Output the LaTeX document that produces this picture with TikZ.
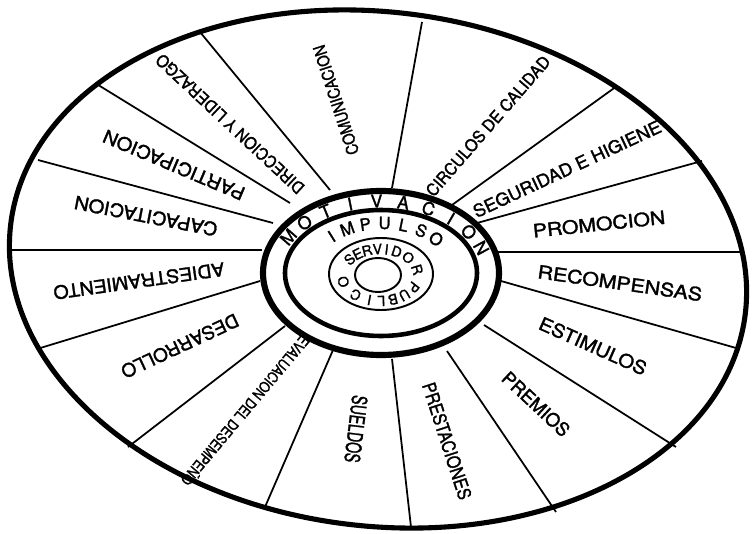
\documentclass[tikz,border=0pt]{standalone}
\usepackage{fontspec}
\setmainfont{TeX Gyre Heros}
\newfontfamily\wheelfont{TeX Gyre Heros}[FakeBold=1.6]
\begin{document}
\begin{tikzpicture}[x=0.02cm, y=-0.02cm, every node/.style={inner sep=0pt},
    spoke/.style={line width=1pt},
    lbl/.style={font=\wheelfont\fontsize{#1}{#1}\selectfont},
    hubtxt/.style={font=\wheelfont\fontsize{#1}{#1}\selectfont}]
  \useasboundingbox (0,0) rectangle (754,534);
  % spokes between the sectors
  \foreach \xa/\ya/\xb/\yb in {392/188/422/22, 330/190/200/32, 290/203/95/83, 273/223/38/160,
      262/250/10/250, 260/281/37/349, 285/326/128/447, 333/350/265/507, 392/359/411/527,
      447/351/556/512, 484/325/676/447, 501/281/736/348, 497/252/744/252, 477/223/702/161,
      452/205/617/86}
    \draw[spoke] (\xa,\ya) -- (\xb,\yb);
  % rim and hub rings
  \draw[line width=2.9pt, rotate around={-7:(378,269)}] (378,269) ellipse [x radius=370, y radius=257];
  \draw[line width=3.5pt, fill=white] (381,273) ellipse [x radius=118, y radius=82];
  \draw[line width=2.6pt] (381,273) ellipse [x radius=96, y radius=63];
  \draw[line width=1.1pt] (381,274) ellipse [x radius=52, y radius=36];
  \draw[line width=1.1pt] (378,275) ellipse [x radius=23, y radius=17];
  % sector labels
  \foreach \n/\x/\y/\r/\f/\s/\t in {com/336/100/108/9.5/0.87/COMUNICACION,
      dir/230/124/137/9.5/0.93/DIRECCION Y LIDERAZGO, par/174/165/157/10.5/1.09/PARTICIPACION,
      cap/146/216/169/10.5/1.09/CAPACITACION, adi/139/281/188/10.5/1.06/ADIESTRAMIENTO,
      des/180/346/205/10.5/1.02/DESARROLLO, pre/447/441/288/10.5/0.86/PRESTACIONES,
      prm/536/404/-43/10.5/1.0/PREMIOS, est/593/346/-24/10.5/1.1/ESTIMULOS,
      rec/620/283/-8/10.5/1.16/RECOMPENSAS, pro/599/224/6/10.5/1.15/PROMOCION,
      seg/567/169/25/10/1.04/SEGURIDAD E HIGIENE, cir/488/126/49/9.5/0.95/CIRCULOS DE CALIDAD}
    \node[lbl=\f, rotate=\r, xscale=\s] (\n) at (\x,\y) {\t};
  \node[lbl=8.5, rotate=230, xscale=0.84] (eva) at (246,411) {EVALUACION DEL DESEMPEÑO};
  \node[lbl=12, rotate=263, xscale=0.67] (sue) at (356,429) {SUELDOS};
  % hub words, one letter at a time
  \foreach \a/\c [count=\i] in {150/M, 135.6/O, 121.2/T, 106.8/I, 92.4/V, 78/A, 63.6/C, 49.2/I, 34.8/O, 20.4/N}
    \node[hubtxt=10, rotate={atan2(-72*cos(\a),107*sin(\a))}] (mot\i) at ({381+107*cos(\a)},{273-72*sin(\a)}) {\c};
  \foreach \a/\c [count=\i] in {133/I, 118/M, 103/P, 88/U, 73/L, 58/S, 43/O}
    \node[hubtxt=9.5, rotate={atan2(-50*cos(\a),74*sin(\a))}] (imp\i) at ({382+74*cos(\a)},{273-50*sin(\a)}) {\c};
  \foreach \a/\c [count=\i] in {143/S, 126/E, 110/R, 94/V, 80/I, 64/D, 42/O, 12/R,
      -28/P, -50/U, -70/B, -88/L, -106/I, -130/C, -165/O}
    \node[hubtxt=8, rotate={atan2(-26*cos(\a),38*sin(\a))}] (srv\i) at ({380+38*cos(\a)},{275-26*sin(\a)}) {\c};
\end{tikzpicture}
\end{document}
